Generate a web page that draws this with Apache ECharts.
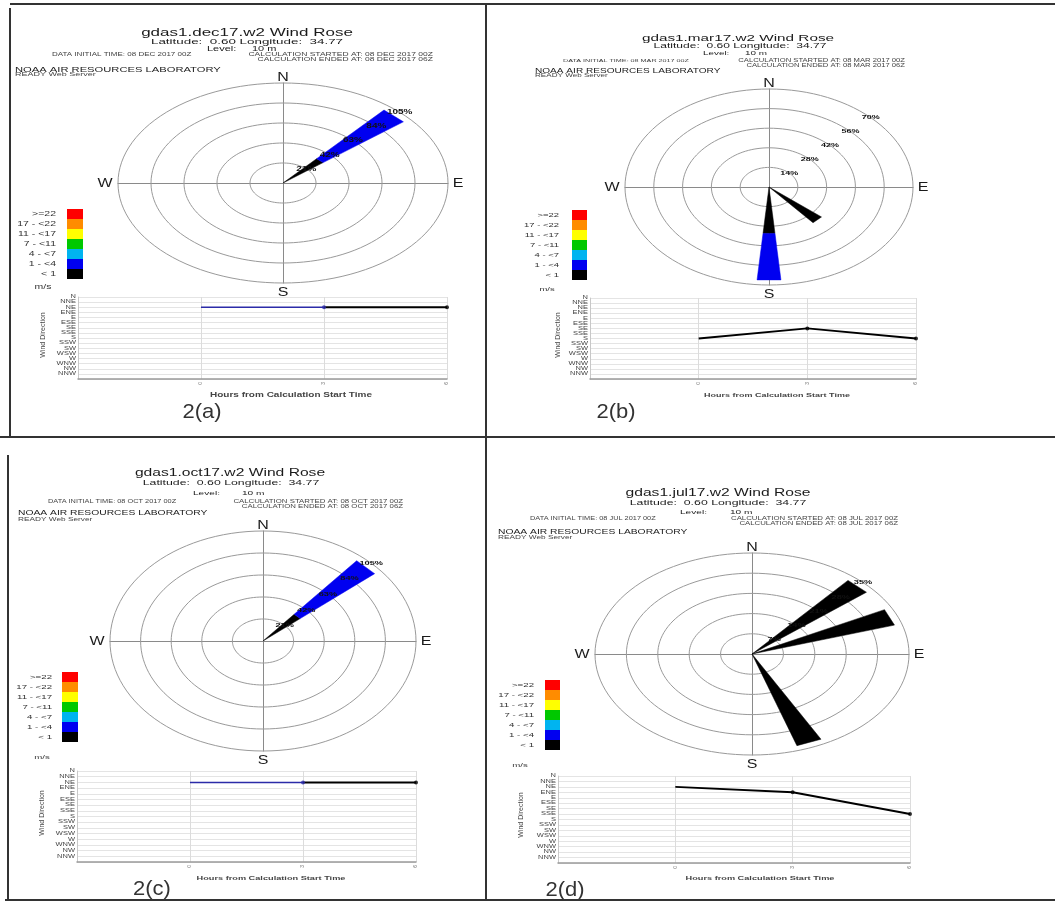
<!DOCTYPE html>
<html><head><meta charset="utf-8">
<script src="https://cdn.jsdelivr.net/npm/echarts@6/dist/echarts.min.js"></script>
<style>html,body{margin:0;padding:0;background:#fff}#c{width:1055px;height:903px}</style>
</head><body><div id="c"></div><script>
// ---------------- DATA ----------------
const DIRECTIONS = ['N','NNE','NE','ENE','E','ESE','SE','SSE','S','SSW','SW','WSW','W','WNW','NW','NNW'];
const SPEED_LABELS = ['< 1','1 - <4','4 - <7','7 - <11','11 - <17','17 - <22','>=22'];
const TITLES = ['gdas1.dec17.w2 Wind Rose','gdas1.mar17.w2 Wind Rose','gdas1.oct17.w2 Wind Rose','gdas1.jul17.w2 Wind Rose'];
const RUN_DATES = ['08 DEC 2017','08 MAR 2017','08 OCT 2017','08 JUL 2017'];
const PANEL_TAGS = ['2(a)','2(b)','2(c)','2(d)'];
const RING_STEPS = [21, 14, 21, 7];
const HOURS = [0, 3, 6];
const HOUR_TICKS = [-3, 0, 3, 6];
// hourly wind direction and speed class (index into SPEED_LABELS)
const dirA = ['NE','NE','NE'];  const spdA = [1,1,0];
const dirB = ['S','SE','S'];    const spdB = [1,0,0];
const dirC = ['NE','NE','NE'];  const spdC = [1,1,0];
const dirD = ['NE','ENE','SSE']; const spdD = [0,0,0];
// wind rose frequencies (%) per direction, per speed class
const roseDirA = ['NE'];            const roseCalmA = [33.3];            const roseLightA = [66.7];
const roseDirB = ['SE','S'];        const roseCalmB = [33.3, 33.3];      const roseLightB = [0, 33.3];
const roseDirC = ['NE'];            const roseCalmC = [33.3];            const roseLightC = [66.7];
const roseDirD = ['NE','ENE','SSE']; const roseCalmD = [33.3,33.3,33.3]; const roseLightD = [0,0,0];

// ---------------- STYLE / LAYOUT ----------------
const SPEED_COLORS = ['#000000','#0000f0','#00b4f0','#00c800','#ffff00','#ff8c00','#ff0000'];
const LINE_COLORS = ['#000000','#2b2ba8'];
const FONT = "'Liberation Sans', Arial, sans-serif";
const SQ = 0.6; // vertical squash of the original bitmap text
const PANELS = [
 {s:1.0, title:[247,33], lat:[247,42], level:[207,49,45], data:[52,55], calc:[433,55,60], noaa:[15,70,75],
  rose:{cx:283,cy:183,rx:165,ry:100}, leg:{x:67,y:209,w:16,h:10,lx:56,ms:[43,287]},
  line:{l:78,r:447,t:297,b:379}, hrs:[291,395], wd:[43,335], tag:[202,413],
  dir:dirA, spd:spdA, rd:roseDirA, rc:roseCalmA, rl:roseLightA},
 {s:0.9, title:[738,38], lat:[740,46], level:[703,53,42], data:[563,61], calc:[905,61,66], noaa:[535,71,76],
  rose:{cx:769,cy:187,rx:144,ry:98}, leg:{x:572,y:210,w:15,h:10,lx:559,ms:[547,289]},
  line:{l:590,r:916,t:298,b:379}, hrs:[777,395], wd:[558,335], tag:[616,413],
  dir:dirB, spd:spdB, rd:roseDirB, rc:roseCalmB, rl:roseLightB},
 {s:0.92, title:[230,473], lat:[231,483], level:[193,493,49], data:[48,502], calc:[403,502,507], noaa:[18,513,520],
  rose:{cx:263,cy:641,rx:153,ry:110}, leg:{x:62,y:672,w:16,h:10,lx:52,ms:[42,757]},
  line:{l:77,r:416,t:771,b:862}, hrs:[271,878], wd:[42,813], tag:[152,890],
  dir:dirC, spd:spdC, rd:roseDirC, rc:roseCalmC, rl:roseLightC},
 {s:0.92, title:[718,493], lat:[718,503], level:[680,512,50], data:[530,519], calc:[898,519,524], noaa:[498,532,538],
  rose:{cx:752,cy:654,rx:157,ry:101}, leg:{x:545,y:680,w:15,h:10,lx:534,ms:[520,765]},
  line:{l:558,r:910,t:776,b:863}, hrs:[760,878], wd:[521,815], tag:[565,891],
  dir:dirD, spd:spdD, rd:roseDirD, rc:roseCalmD, rl:roseLightD}
];
const HALF_WEDGE = 5 * Math.PI / 180;

function txt(x, y, text, size, opts) {
  opts = opts || {};
  return {type:'text', x:x, y:y, rotation: opts.rot || 0, scaleY: opts.sy || 1, z: 50,
    style:{text:text, fill: opts.color || '#1a1a1a', font: (opts.weight || 'normal') + ' ' + size + 'px ' + FONT,
      align: opts.align || 'center', verticalAlign:'middle'}};
}

const grid = [], xAxis = [], yAxis = [], series = [], graphic = [];
// panel frame lines
[[10,4,1055,4],[10,8,10,437],[486,4,486,900],[0,437,1055,437],[8,455,8,900],[5,900,1055,900]].forEach(function(l){
  graphic.push({type:'line', shape:{x1:l[0],y1:l[1],x2:l[2],y2:l[3]}, style:{stroke:'#333', lineWidth:2}, z:60});
});

PANELS.forEach(function(P, i){
  const s = P.s, date = RUN_DATES[i];
  // header texts
  graphic.push(txt(P.title[0], P.title[1], TITLES[i], 17*s, {sy:0.64}));
  graphic.push(txt(P.lat[0], P.lat[1], 'Latitude:  0.60 Longitude:  34.77', 13.4*s, {sy:0.6}));
  graphic.push(txt(P.level[0], P.level[1], 'Level:', 11*s, {align:'left', sy:0.6}));
  graphic.push(txt(P.level[0] + P.level[2], P.level[1], '10 m', 11*s, {align:'left', sy:0.6}));
  graphic.push(txt(P.data[0], P.data[1], 'DATA INITIAL TIME: ' + date + ' 00Z', 8*s, {align:'left', color:'#444', sy:SQ}));
  graphic.push(txt(P.calc[0], P.calc[1], 'CALCULATION STARTED AT: ' + date + ' 00Z', 8.5*s, {align:'right', color:'#444', sy:SQ}));
  graphic.push(txt(P.calc[0], P.calc[2], 'CALCULATION ENDED AT: ' + date + ' 06Z', 8.5*s, {align:'right', color:'#444', sy:SQ}));
  graphic.push(txt(P.noaa[0], P.noaa[1], 'NOAA AIR RESOURCES LABORATORY', 11.2*s, {align:'left', sy:0.7}));
  graphic.push(txt(P.noaa[0], P.noaa[2], 'READY Web Server', 9*s, {align:'left', color:'#444', sy:SQ}));
  // compass letters
  const R = P.rose;
  graphic.push(txt(R.cx, R.cy - R.ry - 6, 'N', 16, {sy:0.85}));
  graphic.push(txt(R.cx, R.cy + R.ry + 9, 'S', 16, {sy:0.85}));
  graphic.push(txt(R.cx - R.rx - 13, R.cy, 'W', 16, {sy:0.85}));
  graphic.push(txt(R.cx + R.rx + 10, R.cy, 'E', 16, {sy:0.85}));
  // speed legend
  const L = P.leg;
  for (let k = SPEED_LABELS.length - 1, row = 0; k >= 0; k--, row++) {
    graphic.push({type:'rect', shape:{x:L.x, y:L.y + row*L.h, width:L.w, height:L.h}, style:{fill:SPEED_COLORS[k]}, z:50});
    graphic.push(txt(L.lx, L.y + row*L.h + L.h/2, SPEED_LABELS[k], 10.5*s, {align:'right', color:'#333', sy:SQ}));
  }
  graphic.push(txt(L.ms[0], L.ms[1], 'm/s', 10.5*s, {color:'#333', sy:SQ}));
  // line chart captions
  graphic.push(txt(P.hrs[0], P.hrs[1], 'Hours from Calculation Start Time', 10*s, {weight:'bold', color:'#444', sy:0.65}));
  graphic.push(txt(P.wd[0], P.wd[1], 'Wind Direction', 7, {rot: Math.PI/2, color:'#444'}));
  graphic.push(txt(P.tag[0], P.tag[1], PANEL_TAGS[i], 22, {color:'#333', sy:0.88}));

  // ---- wind rose grid (normalised cartesian; ellipse from grid aspect) ----
  const gR = grid.length;
  grid.push({left:R.cx - R.rx, top:R.cy - R.ry, width:2*R.rx, height:2*R.ry});
  xAxis.push({gridIndex:gR, type:'value', min:-1, max:1, axisLine:{show:true, onZero:true, lineStyle:{color:'#8a8a8a', width:1}},
    axisTick:{show:false}, axisLabel:{show:false}, splitLine:{show:false}});
  yAxis.push({gridIndex:gR, type:'value', min:-1, max:1, axisLine:{show:true, onZero:true, lineStyle:{color:'#8a8a8a', width:1}},
    axisTick:{show:false}, axisLabel:{show:false}, splitLine:{show:false}});
  const step = RING_STEPS[i], maxR = step * 5;
  const rings = [1,2,3,4,5].map(function(k){ return [k*step, maxR]; });
  series.push({type:'custom', xAxisIndex:gR, yAxisIndex:gR, clip:false, silent:true, z:1, data:rings,
    renderItem:function(params, api){
      const r = api.value(0) / api.value(1), pts = [];
      for (let k = 0; k <= 120; k++) { const t = k/120*2*Math.PI; pts.push(api.coord([r*Math.sin(t), r*Math.cos(t)])); }
      return {type:'polyline', shape:{points:pts}, style:{stroke:'#9a9a9a', lineWidth:1, fill:null}};
    }});
  // wedges: stacked speed classes
  const wedges = [];
  P.rd.forEach(function(d, j){
    const di = DIRECTIONS.indexOf(d);
    let acc = 0;
    [P.rc[j], P.rl[j]].forEach(function(v, cls){
      if (v > 0) { wedges.push([di, acc, acc + v, cls, maxR]); acc += v; }
    });
  });
  series.push({type:'custom', xAxisIndex:gR, yAxisIndex:gR, clip:false, silent:true, z:3, data:wedges,
    renderItem:function(params, api){
      const th = api.value(0) * 22.5 * Math.PI / 180, m = api.value(4);
      const r0 = api.value(1)/m, r1 = api.value(2)/m;
      const P2 = function(r, a){ return api.coord([r*Math.sin(a), r*Math.cos(a)]); };
      return {type:'polygon', shape:{points:[P2(r0, th-HALF_WEDGE), P2(r1, th-HALF_WEDGE), P2(r1, th+HALF_WEDGE), P2(r0, th+HALF_WEDGE)]},
        style:{fill:SPEED_COLORS[api.value(3)], stroke:SPEED_COLORS[api.value(3)], lineWidth:0.5}};
    }});
  // ring labels along 45 degrees
  series.push({type:'custom', xAxisIndex:gR, yAxisIndex:gR, clip:false, silent:true, z:5, data:rings,
    renderItem:function(params, api){
      const r = api.value(0) / api.value(1), a = Math.PI/4;
      const p = api.coord([r*Math.sin(a), r*Math.cos(a)]);
      return {type:'text', x:p[0], y:p[1], scaleY:0.65,
        style:{text: api.value(0) + '%', fill:'#111', font:'bold ' + (10*s) + 'px ' + FONT, align:'center', verticalAlign:'middle'}};
    }});

  // ---- direction vs hour line chart ----
  const Ln = P.line, gL = grid.length;
  grid.push({left:Ln.l, top:Ln.t, width:Ln.r - Ln.l, height:Ln.b - Ln.t});
  xAxis.push({gridIndex:gL, type:'value', min:HOUR_TICKS[0], max:HOUR_TICKS[HOUR_TICKS.length-1], interval:3,
    axisLine:{onZero:false, lineStyle:{color:'#9a9a9a', width:1.5}}, axisTick:{show:false},
    axisLabel:{fontSize:5, rotate:90, color:'#777', margin:3, formatter:function(v){ return v < 0 ? '' : String(v); }},
    splitLine:{show:true, lineStyle:{color:'#dcdcdc', width:1}}});
  yAxis.push({gridIndex:gL, type:'value', min:0, max:16, interval:1, inverse:true,
    axisLine:{show:true, onZero:false, lineStyle:{color:'#c8c8c8'}}, axisTick:{show:false},
    axisLabel:{show:false}, splitLine:{show:true, lineStyle:{color:'#e4e4e4', width:1}}});
  // direction tick labels (squashed like the original)
  series.push({type:'custom', xAxisIndex:gL, yAxisIndex:gL, clip:false, silent:true, z:6,
    data:DIRECTIONS.map(function(d, k){ return [HOUR_TICKS[0], k]; }),
    renderItem:function(params, api){
      const p = api.coord([api.value(0), api.value(1)]);
      return {type:'text', x:p[0] - 2, y:p[1], scaleY:0.62,
        style:{text: DIRECTIONS[api.value(1)], fill:'#444', font:'7.5px ' + FONT, align:'right', verticalAlign:'middle'}};
    }});
  for (let k = 0; k < HOURS.length - 1; k++) {
    series.push({type:'line', xAxisIndex:gL, yAxisIndex:gL, silent:true, showSymbol:false, animation:false,
      lineStyle:{color:LINE_COLORS[P.spd[k+1]], width: P.spd[k+1] ? 1.5 : 2},
      data:[[HOURS[k], DIRECTIONS.indexOf(P.dir[k])], [HOURS[k+1], DIRECTIONS.indexOf(P.dir[k+1])]]});
  }
  series.push({type:'scatter', xAxisIndex:gL, yAxisIndex:gL, silent:true, symbolSize:4, z:4,
    data:HOURS.slice(1).map(function(h, k){
      return {value:[h, DIRECTIONS.indexOf(P.dir[k+1])], itemStyle:{color:LINE_COLORS[P.spd[k+1]]}};
    })});
});

const chart = echarts.init(document.getElementById('c'), null, {renderer:'canvas'});
chart.setOption({animation:false, backgroundColor:'#fff', grid:grid, xAxis:xAxis, yAxis:yAxis, series:series, graphic:graphic});
</script></body></html>
